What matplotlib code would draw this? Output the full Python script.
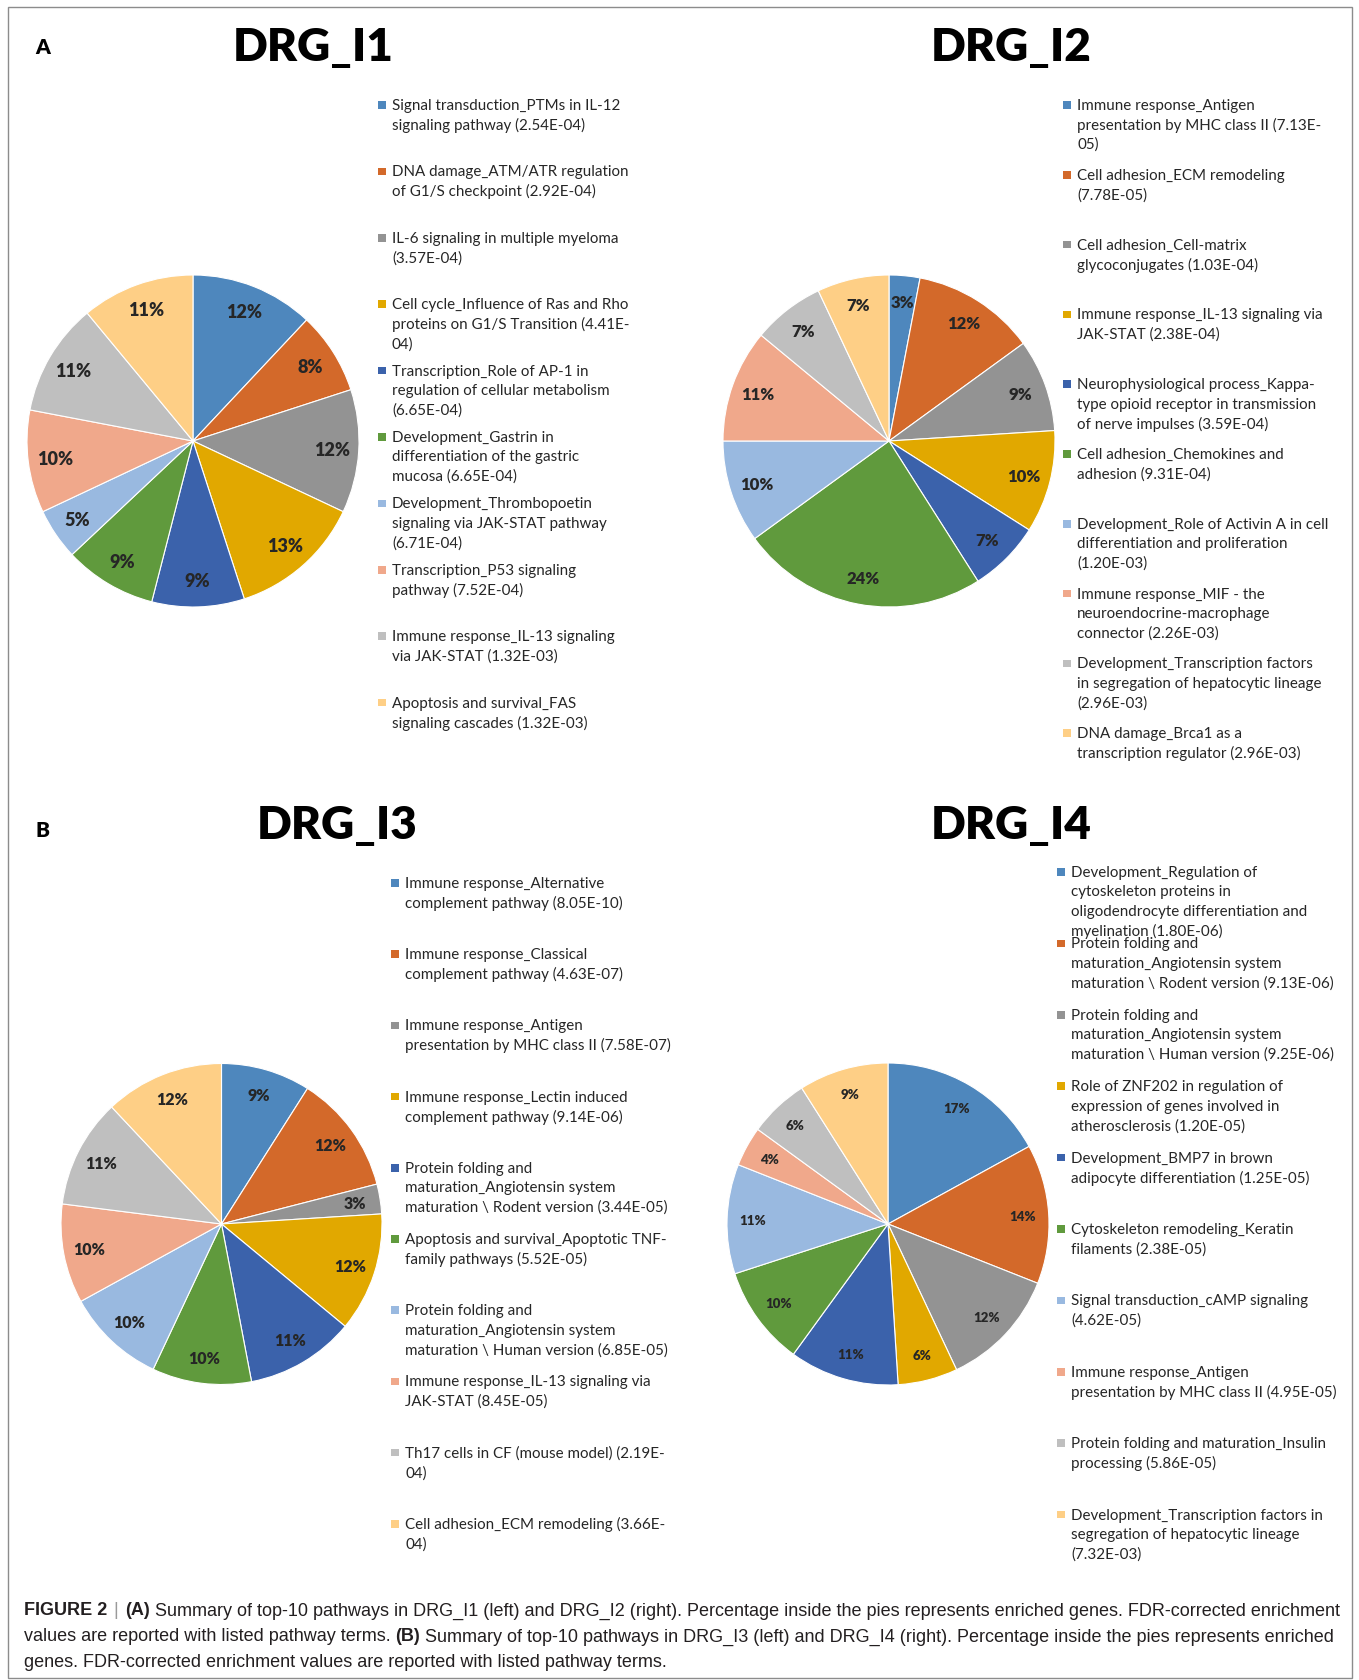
import matplotlib
matplotlib.use("Agg")
import matplotlib.pyplot as plt
from matplotlib.patches import Rectangle
from matplotlib import font_manager

# canvas size in pixels (dpi 100)
W, H = 1359, 1681

# ---- data ----
titles = ["DRG_I1", "DRG_I2", "DRG_I3", "DRG_I4"]

pct_i1 = [12, 8, 12, 13, 9, 9, 5, 10, 11, 11]
pct_i2 = [3, 12, 9, 10, 7, 24, 10, 11, 7, 7]
pct_i3 = [9, 12, 3, 12, 11, 10, 10, 10, 11, 12]
pct_i4 = [17, 14, 12, 6, 11, 10, 11, 4, 6, 9]

terms_i1 = [
    "Signal transduction_PTMs in IL-12\nsignaling pathway (2.54E-04)",
    "DNA damage_ATM/ATR regulation\nof G1/S checkpoint (2.92E-04)",
    "IL-6 signaling in multiple myeloma\n(3.57E-04)",
    "Cell cycle_Influence of Ras and Rho\nproteins on G1/S Transition (4.41E-\n04)",
    "Transcription_Role of AP-1 in\nregulation of cellular metabolism\n(6.65E-04)",
    "Development_Gastrin in\ndifferentiation of the gastric\nmucosa (6.65E-04)",
    "Development_Thrombopoetin\nsignaling via JAK-STAT pathway\n(6.71E-04)",
    "Transcription_P53 signaling\npathway (7.52E-04)",
    "Immune response_IL-13 signaling\nvia JAK-STAT (1.32E-03)",
    "Apoptosis and survival_FAS\nsignaling cascades (1.32E-03)",
]
terms_i2 = [
    "Immune response_Antigen\npresentation by MHC class II (7.13E-\n05)",
    "Cell adhesion_ECM remodeling\n(7.78E-05)",
    "Cell adhesion_Cell-matrix\nglycoconjugates (1.03E-04)",
    "Immune response_IL-13 signaling via\nJAK-STAT (2.38E-04)",
    "Neurophysiological process_Kappa-\ntype opioid receptor in transmission\nof nerve impulses (3.59E-04)",
    "Cell adhesion_Chemokines and\nadhesion (9.31E-04)",
    "Development_Role of Activin A in cell\ndifferentiation and proliferation\n(1.20E-03)",
    "Immune response_MIF - the\nneuroendocrine-macrophage\nconnector (2.26E-03)",
    "Development_Transcription factors\nin segregation of hepatocytic lineage\n(2.96E-03)",
    "DNA damage_Brca1 as a\ntranscription regulator (2.96E-03)",
]
terms_i3 = [
    "Immune response_Alternative\ncomplement pathway (8.05E-10)",
    "Immune response_Classical\ncomplement pathway (4.63E-07)",
    "Immune response_Antigen\npresentation by MHC class II (7.58E-07)",
    "Immune response_Lectin induced\ncomplement pathway (9.14E-06)",
    "Protein folding and\nmaturation_Angiotensin system\nmaturation \\ Rodent version (3.44E-05)",
    "Apoptosis and survival_Apoptotic TNF-\nfamily pathways (5.52E-05)",
    "Protein folding and\nmaturation_Angiotensin system\nmaturation \\ Human version (6.85E-05)",
    "Immune response_IL-13 signaling via\nJAK-STAT (8.45E-05)",
    "Th17 cells in CF (mouse model) (2.19E-\n04)",
    "Cell adhesion_ECM remodeling (3.66E-\n04)",
]
terms_i4 = [
    "Development_Regulation of\ncytoskeleton proteins in\noligodendrocyte differentiation and\nmyelination (1.80E-06)",
    "Protein folding and\nmaturation_Angiotensin system\nmaturation \\ Rodent version (9.13E-06)",
    "Protein folding and\nmaturation_Angiotensin system\nmaturation \\ Human version (9.25E-06)",
    "Role of ZNF202 in regulation of\nexpression of genes involved in\natherosclerosis (1.20E-05)",
    "Development_BMP7 in brown\nadipocyte differentiation (1.25E-05)",
    "Cytoskeleton remodeling_Keratin\nfilaments (2.38E-05)",
    "Signal transduction_cAMP signaling\n(4.62E-05)",
    "Immune response_Antigen\npresentation by MHC class II (4.95E-05)",
    "Protein folding and maturation_Insulin\nprocessing (5.86E-05)",
    "Development_Transcription factors in\nsegregation of hepatocytic lineage\n(7.32E-03)",
]

caption_lines = [
    [("FIGURE 2", "bold", "#231f20"), ("|", "normal", "#9a9a9a"), ("(A)", "bold", "#231f20"),
     ("Summary of top-10 pathways in DRG_I1 (left) and DRG_I2 (right). Percentage inside the pies "
      "represents enriched genes. FDR-corrected enrichment", "normal", "#231f20")],
    [("values are reported with listed pathway terms.", "normal", "#231f20"), ("(B)", "bold", "#231f20"),
     ("Summary of top-10 pathways in DRG_I3 (left) and DRG_I4 (right). Percentage inside the pies "
      "represents enriched", "normal", "#231f20")],
    [("genes. FDR-corrected enrichment values are reported with listed pathway terms.", "normal", "#231f20")],
]

# Excel-like slice colours
colors = ["#4e87bd", "#d3692a", "#939393", "#e1a800", "#3b62ab",
          "#609a3d", "#99b9e0", "#f0a88b", "#bfbfbf", "#fecf86"]

# ---- fonts ----
plt.rcParams["font.family"] = ["Lato", "DejaVu Sans"]
try:
    font_manager.findfont("Liberation Sans Narrow", fallback_to_default=False)
    cap_font = "Liberation Sans Narrow"
except Exception:
    cap_font = "Liberation Sans"


def fx(x):
    return x / W


def fy(y):
    return 1 - y / H


fig = plt.figure(figsize=(W / 100, H / 100), dpi=100)

# outer frame
fig.add_artist(Rectangle((fx(8), fy(1679)), fx(1352) - fx(8), fy(8) - fy(1679),
                         transform=fig.transFigure, fill=False, edgecolor="#8c8c8c", lw=1))

fig.text(fx(43), fy(48), "A", fontsize=15, fontweight="heavy", ha="center", va="center")
fig.text(fx(43), fy(831), "B", fontsize=15, fontweight="heavy", ha="center", va="center")

# layout per panel: pie centre, radius, pct font, title centre, legend marker x, first y, step
panels = [
    dict(vals=pct_i1, terms=terms_i1, c=(193, 442), r=166, pfs=13, t=(313, 48),
         lx=382, ly=106, step=66.4),
    dict(vals=pct_i2, terms=terms_i2, c=(889, 442), r=166, pfs=12, t=(1011, 48),
         lx=1067, ly=106, step=69.8),
    dict(vals=pct_i3, terms=terms_i3, c=(221.5, 1225), r=160.5, pfs=11.5, t=(337, 826),
         lx=395, ly=884, step=71.2),
    dict(vals=pct_i4, terms=terms_i4, c=(888, 1225), r=161, pfs=9.5, t=(1011, 826),
         lx=1061, ly=873, step=71.4),
]

line_h = 19.5
for title, p in zip(titles, panels):
    cx, cy = p["c"]
    r = p["r"]
    ax = fig.add_axes([fx(cx - r), fy(cy + r), (2 * r) / W, (2 * r) / H])
    ax.pie(p["vals"], colors=colors, startangle=90, counterclock=False,
           autopct=lambda v: f"{v:.0f}%", pctdistance=0.84,
           wedgeprops=dict(edgecolor="white", linewidth=0.8),
           textprops=dict(fontsize=p["pfs"], fontweight="heavy", color="#262626"))
    ax.set_xlim(-1, 1)
    ax.set_ylim(-1, 1)
    ax.set_aspect("equal")
    ax.axis("off")

    fig.text(fx(p["t"][0]), fy(p["t"][1]), title, fontsize=33, fontweight="heavy",
             ha="center", va="center")

    # legend, drawn line by line
    for i, (term, col) in enumerate(zip(p["terms"], colors)):
        y0 = p["ly"] + i * p["step"]
        fig.add_artist(Rectangle((fx(p["lx"] - 3.8), fy(y0 + 3.8)), 7.6 / W, 7.6 / H,
                                 transform=fig.transFigure, facecolor=col, edgecolor="none"))
        for j, line in enumerate(term.split("\n")):
            fig.text(fx(p["lx"] + 10), fy(y0 + j * line_h), line, fontsize=10.9,
                     color="#262626", ha="left", va="center")

# caption with mixed weights
renderer = fig.canvas.get_renderer()
cap_size = 13
sp = fig.text(0, 0, "a a", fontsize=cap_size, family=cap_font)
sp2 = fig.text(0, 0, "aa", fontsize=cap_size, family=cap_font)
space_w = sp.get_window_extent(renderer).width - sp2.get_window_extent(renderer).width
sp.remove()
sp2.remove()

cap_y = [1611, 1637, 1663]
for yy, runs in zip(cap_y, caption_lines):
    x = 23.5
    for k, (txt, wt, col) in enumerate(runs):
        t = fig.text(fx(x), fy(yy), txt, fontsize=cap_size, fontweight=wt, color=col,
                     family=cap_font, ha="left", va="center")
        gap = 1.4 if (txt == "|" or (txt == "FIGURE 2")) else 1
        x += t.get_window_extent(renderer).width + space_w * gap

fig.savefig("out.png", dpi=100)
